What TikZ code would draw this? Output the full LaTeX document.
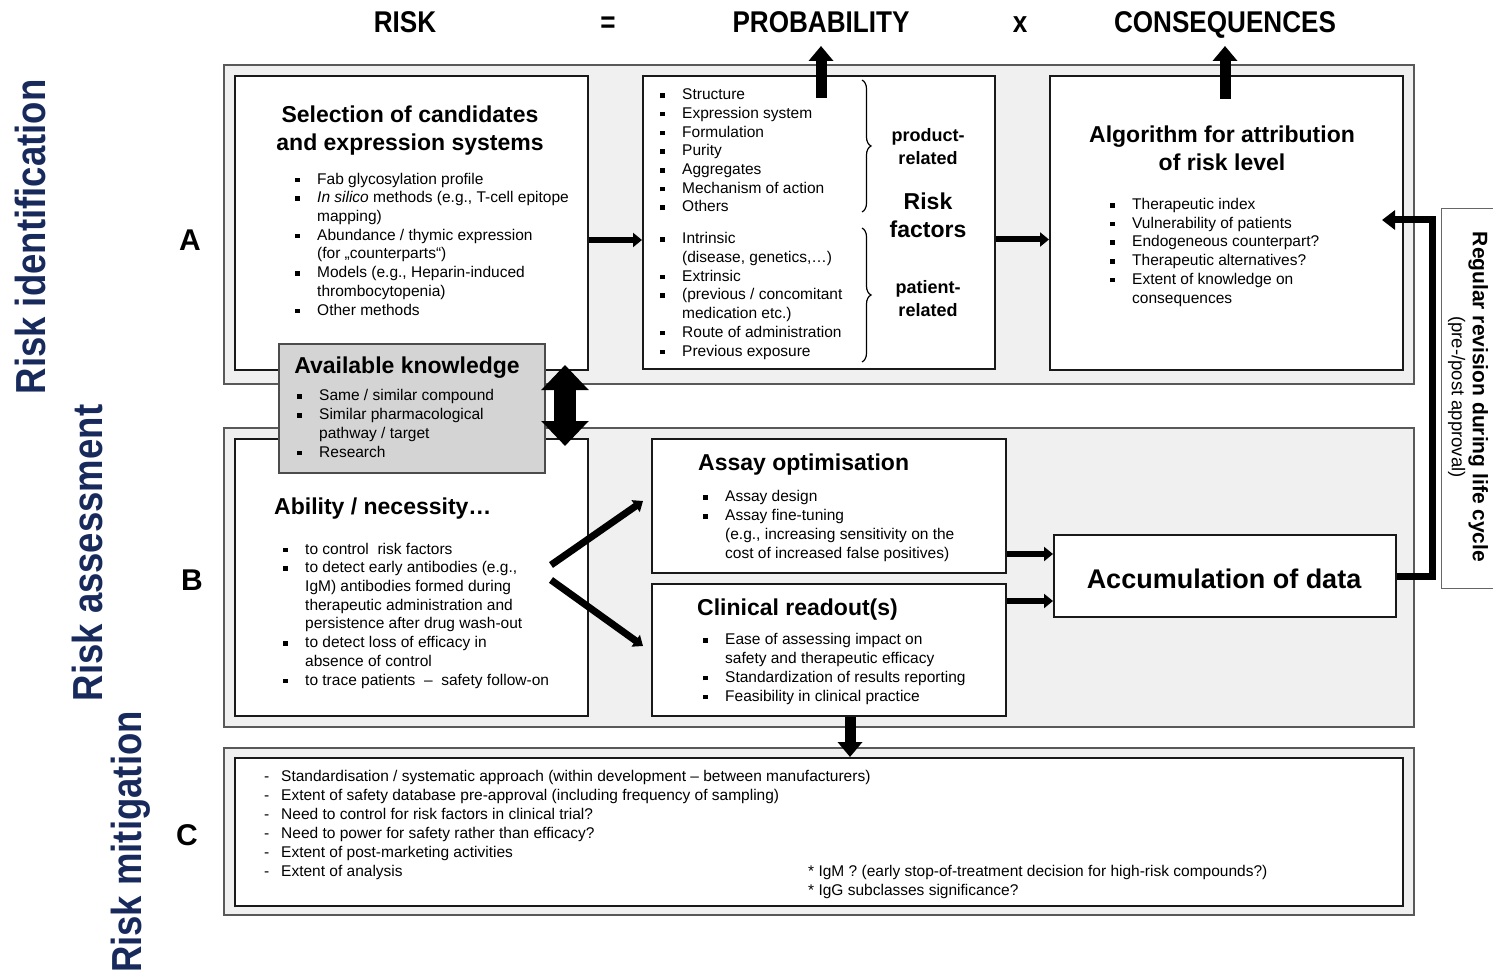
\documentclass[tikz,border=0pt]{standalone}
\usepackage{fontspec}
\setmainfont{Liberation Sans}
\newfontfamily\narrowfont[FakeStretch=0.87]{Liberation Sans}
\usetikzlibrary{
    arrows.meta,
    positioning,
    calc,
    decorations.pathreplacing,
}
\definecolor{navy}{RGB}{24,42,92}
\definecolor{panelgray}{RGB}{240,240,240}
\definecolor{knowgray}{RGB}{212,212,212}
\newcommand{\itm}{\makebox[22pt][l]{\rule[2pt]{4.5pt}{4.5pt}}}
\newcommand{\nxt}{\hspace*{22pt}}
\newcommand{\dsh}{\makebox[17pt][l]{-}}

\begin{document}
\begin{tikzpicture}[
        x=1pt, y=-1pt,
        panel/.style={draw=black!65, fill=panelgray, line width=1.6pt, anchor=north west},
        card/.style={draw=black!90, fill=white, line width=2pt, anchor=north west},
        body/.style={font={\fontsize{15.5}{18.7}\selectfont}, align=left, inner sep=0pt, anchor=base west},
        ttl/.style={font={\fontsize{23}{28}\selectfont\bfseries}, align=center, inner sep=0pt, anchor=base},
        lbl/.style={font={\fontsize{18}{23}\selectfont\bfseries}, align=center, inner sep=0pt, anchor=base},
        hdr/.style={font={\narrowfont\bfseries\fontsize{30}{32}\selectfont}, inner sep=0pt, anchor=base},
        side/.style={font={\narrowfont\bfseries\fontsize{42}{44}\selectfont}, text=navy, rotate=90, inner sep=0pt},
        lett/.style={font={\fontsize{30}{32}\selectfont\bfseries}, inner sep=0pt},
        brc/.style={decorate, decoration={brace, amplitude=9pt}, line width=1.2pt},
        arr/.style={-{Triangle[length=9pt, width=14pt]}, line width=6pt},
        bigarr/.style={-{Triangle[length=15pt, width=24pt]}, line width=11pt},
        fb/.style={-{Triangle[length=13pt, width=19pt]}, line width=7pt},
        dbl/.style={{Triangle[length=25pt, width=46pt]}-{Triangle[length=25pt, width=46pt]}, line width=22pt},
    ]
        \useasboundingbox (0,0) rectangle (1493,976);

        % Equation
        \node[hdr] (risk) at (405,33) {RISK};
        \node[hdr] (eq) at (608,33) {=};
        \node[hdr] (prob) at (821,33) {PROBABILITY};
        \node[hdr] (times) at (1020,33) {x};
        \node[hdr] (cons) at (1225,33) {CONSEQUENCES};

        % Phases
        \node[side] (ident) at (30,237) {Risk identification};
        \node[side] (assess) at (87,553) {Risk assessment};
        \node[side] (mitig) at (131,842) {Risk mitigation};
        \node[lett] (la) at (190,240) {A};
        \node[lett] (lb) at (192,580) {B};
        \node[lett] (lc) at (187,835) {C};

        % Panels
        \node[panel, minimum width=1190pt, minimum height=319pt] (panA) at (223,64) {};
        \node[panel, minimum width=1190pt, minimum height=299pt] (panB) at (223,427) {};
        \node[panel, minimum width=1190pt, minimum height=167pt] (panC) at (223,747) {};

        % A: identification (text nodes sit on their last baseline)
        \node[card, minimum width=353pt, minimum height=294pt] (selbox) at (234,75) {};
        \node[card, minimum width=352pt, minimum height=293pt] (facbox) at (642,75) {};
        \node[card, minimum width=353pt, minimum height=294pt] (algbox) at (1049,75) {};

        \node[ttl] (seltitle) at (410,151) {Selection of candidates\\and expression systems};
        \node[body] (sellist) at (295,315) {\itm Fab glycosylation profile\\
            \itm \textit{In silico} methods (e.g., T-cell epitope\\
            \nxt mapping)\\
            \itm Abundance / thymic expression\\
            \nxt (for „counterparts“)\\
            \itm Models (e.g., Heparin-induced\\
            \nxt thrombocytopenia)\\
            \itm Other methods};

        \node[body] (prodlist) at (660,212) {\itm Structure\\
            \itm Expression system\\
            \itm Formulation\\
            \itm Purity\\
            \itm Aggregates\\
            \itm Mechanism of action\\
            \itm Others};
        \node[body] (patlist) at (660,356) {\itm Intrinsic\\
            \nxt (disease, genetics,…)\\
            \itm Extrinsic\\
            \itm (previous / concomitant\\
            \nxt medication etc.)\\
            \itm Route of administration\\
            \itm Previous exposure};
        \draw[brc] (862,80) -- (862,212);
        \draw[brc] (862,228) -- (862,362);
        \node[lbl] (prodlbl) at (928,165) {product-\\related};
        \node[ttl] (rflbl) at (928,238) {Risk\\factors};
        \node[lbl] (patlbl) at (928,316) {patient-\\related};

        \node[ttl] (algtitle) at (1222,171) {Algorithm for attribution\\of risk level};
        \node[body] (alglist) at (1110,303) {\itm Therapeutic index\\
            \itm Vulnerability of patients\\
            \itm Endogeneous counterpart?\\
            \itm Therapeutic alternatives?\\
            \itm Extent of knowledge on\\
            \nxt consequences};

        % B: assessment
        \node[card, minimum width=353pt, minimum height=277pt] (ablbox) at (234,438) {};
        \node[card, minimum width=354pt, minimum height=134pt] (assbox) at (651,438) {};
        \node[card, minimum width=354pt, minimum height=132pt] (clinbox) at (651,583) {};
        \node[card, minimum width=342pt, minimum height=82pt] (accbox) at (1053,534) {};

        \node[ttl, anchor=base west] (abltitle) at (274,514) {Ability / necessity…};
        \node[body] (abllist) at (283,685) {\itm to control\ \ risk factors\\
            \itm to detect early antibodies (e.g.,\\
            \nxt IgM) antibodies formed during\\
            \nxt therapeutic administration and\\
            \nxt persistence after drug wash-out\\
            \itm to detect loss of efficacy in\\
            \nxt absence of control\\
            \itm to trace patients \ –\ \ safety follow-on};

        \node[ttl, anchor=base west] (asstitle) at (698,470) {Assay optimisation};
        \node[body] (asslist) at (703,558) {\itm Assay design\\
            \itm Assay fine-tuning\\
            \nxt (e.g., increasing sensitivity on the\\
            \nxt cost of increased false positives)};

        \node[ttl, anchor=base west] (clintitle) at (697,615) {Clinical readout(s)};
        \node[body] (clinlist) at (703,701) {\itm Ease of assessing impact on\\
            \nxt safety and therapeutic efficacy\\
            \itm Standardization of results reporting\\
            \itm Feasibility in clinical practice};

        \node[ttl, font={\fontsize{27}{30}\selectfont\bfseries}] (acctitle) at (1224,588) {Accumulation of data};

        % Available knowledge
        \node[draw=black!70, fill=knowgray, line width=2pt, anchor=north west,
            minimum width=266pt, minimum height=129pt] (knowbox) at (278,343) {};
        \node[ttl] (knowtitle) at (407,373) {Available knowledge};
        \node[body] (knowlist) at (297,457) {\itm Same / similar compound\\
            \itm Similar pharmacological\\
            \nxt pathway / target\\
            \itm Research};

        % C: mitigation
        \node[card, minimum width=1168pt, minimum height=148pt] (cbox) at (234,757) {};
        \node[body, font={\fontsize{15.5}{19}\selectfont}] (clist) at (264,876) {\dsh Standardisation / systematic approach (within development – between manufacturers)\\
            \dsh Extent of safety database pre-approval (including frequency of sampling)\\
            \dsh Need to control for risk factors in clinical trial?\\
            \dsh Need to power for safety rather than efficacy?\\
            \dsh Extent of post-marketing activities\\
            \dsh Extent of analysis};
        \node[body, font={\fontsize{15.5}{19}\selectfont}] (cnotes) at (808,895) {* IgM ? (early stop-of-treatment decision for high-risk compounds?)\\
            * IgG subclasses significance?};

        % Revision
        \draw[draw=black!60, line width=1pt] (1493,209) -- (1441,209) -- (1441,588) -- (1493,588);
        \node[rotate=-90, align=center, inner sep=0pt, font={\fontsize{18.5}{21}\selectfont}] (revtxt) at (1468,397)
            {{\bfseries\fontsize{21}{21}\selectfont Regular revision during life cycle}\\(pre-/post approval)};

        % Connectors
        \coordinate (a1) at ([yshift=-17pt]selbox.east);
        \draw[arr] (a1) -- (a1 -| facbox.west);
        \coordinate (a2) at ([yshift=-17pt]facbox.east);
        \draw[arr] (a2) -- (a2 -| algbox.west);
        \coordinate (probtip) at ($(prob.base)+(0,13)$);
        \coordinate (constip) at ($(cons.base)+(0,13)$);
        \draw[bigarr] ($(facbox.north -| probtip)+(0,23)$) -- (probtip);
        \draw[bigarr] ($(algbox.north -| constip)+(0,24)$) -- (constip);

        \coordinate (kn1) at (565,365);
        \coordinate (kn2) at (565,446);
        \draw[dbl] (kn1) -- (kn2);

        \coordinate (fork1) at (551,565);
        \coordinate (fork2) at (551,580);
        \draw[arr, line width=7pt] (fork1) -- ([xshift=-8pt, yshift=5pt]assbox.west);
        \draw[arr, line width=7pt] (fork2) -- ([xshift=-8pt, yshift=4pt]clinbox.west);

        \coordinate (acc1) at ([yshift=22pt]accbox.west);
        \draw[arr] (acc1 -| assbox.east) -- (acc1);
        \coordinate (acc2) at ([yshift=-25pt]accbox.west);
        \draw[arr] (acc2 -| clinbox.east) -- (acc2);

        \coordinate (revtop) at (1432,220);
        \draw[fb] (accbox.east) -| (revtop) -- ($(algbox.east |- revtop)+(-22,0)$);

        \coordinate (dn) at ($(clinbox.south)+(21,0)$);
        \draw[bigarr] (dn) -- (dn |- cbox.north);
    \end{tikzpicture}
\end{document}
